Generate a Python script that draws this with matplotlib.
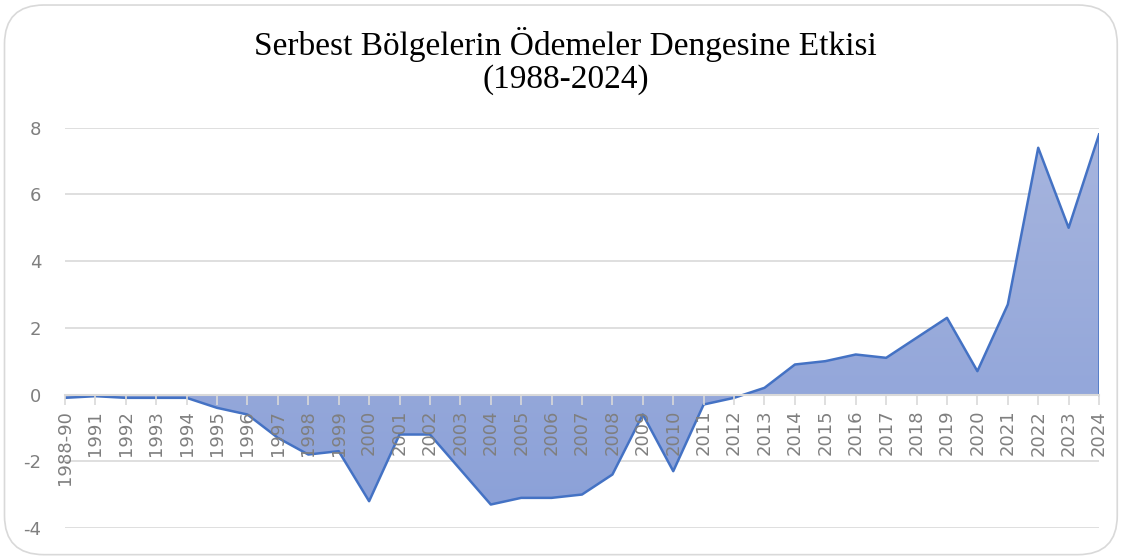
import numpy as np
import matplotlib.pyplot as plt
from matplotlib.patches import FancyBboxPatch
from matplotlib.colors import LinearSegmentedColormap

# Data
years = ["1988-90"] + [str(y) for y in range(1991, 2025)]
values = [-0.1, -0.05, -0.1, -0.1, -0.1, -0.4, -0.6, -1.3, -1.8, -1.7,
          -3.2, -1.2, -1.2, -2.25, -3.3, -3.1, -3.1, -3.0, -2.4, -0.6,
          -2.3, -0.3, -0.1, 0.2, 0.9, 1.0, 1.2, 1.1, 1.7, 2.3,
          0.7, 2.7, 7.4, 5.0, 7.8]
yticks = [-4, -2, 0, 2, 4, 6, 8]

fig = plt.figure(figsize=(11.24, 5.58), dpi=100)
ax = fig.add_axes([0.0578, 0.054, 0.92, 0.717])

# rounded chart border
border = FancyBboxPatch((0.004, 0.006), 0.99, 0.985, boxstyle="round,pad=0,rounding_size=0.035",
                        transform=fig.transFigure, fill=False, ec="#d9d9d9", lw=1.2,
                        mutation_aspect=2.0)
fig.patches.append(border)

x = np.arange(len(years))
poly = ax.fill_between(x, values, 0, color="none", lw=0)

# gradient fill clipped to area
cmap = LinearSegmentedColormap.from_list("g", ["#8aa0d8", "#a7b5de"])
grad = np.linspace(0, 1, 256).reshape(-1, 1)
img = ax.imshow(grad, extent=[0, len(years) - 1, -4, 8], origin="lower", cmap=cmap,
                aspect="auto", zorder=2)
img.set_clip_path(poly.get_paths()[0], transform=ax.transData)
ax.plot(x, values, color="#4472c4", lw=1.8, zorder=3)
ax.plot([x[-1], x[-1]], [0, values[-1]], color="#4472c4", lw=1.8, zorder=3)

ax.set_xlim(0, len(years) - 1)
ax.set_ylim(-4, 8)
ax.set_yticks(yticks)
ax.set_yticklabels([str(t) for t in yticks], color="#7f7f7f", fontsize=13)
ax.tick_params(axis="y", length=0, pad=17)
ax.grid(axis="y", color="#d9d9d9", lw=1.2)
ax.set_axisbelow(True)
ax.xaxis.set_zorder(5)

ax.spines[["top", "right", "left"]].set_visible(False)
ax.spines["bottom"].set_position(("data", 0))
ax.spines["bottom"].set_color("#d9d9d9")
ax.spines["bottom"].set_linewidth(1.5)
ax.spines["bottom"].set_zorder(4)
ax.set_xticks(x)
ax.set_xticklabels(years, rotation=90, color="#7f7f7f", fontsize=13)
ax.tick_params(axis="x", length=7, color="#d9d9d9", width=1.2, direction="out", pad=4)

fig.text(0.503, 0.89, "Serbest Bölgelerin Ödemeler Dengesine Etkisi\n(1988-2024)",
         ha="center", va="center", fontsize=24, family="Liberation Serif",
         linespacing=1.1, color="black")

fig.savefig("out.png", dpi=100)
